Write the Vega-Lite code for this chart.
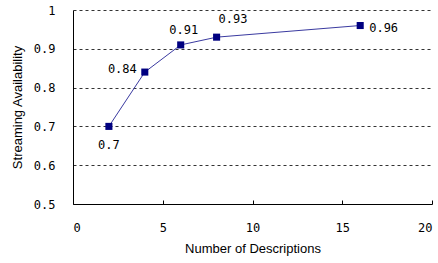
{
  "$schema": "https://vega.github.io/schema/vega-lite/v6.json",
  "width": 359,
  "height": 194,
  "autosize": {"type": "none"},
  "padding": {"left": 73, "top": 10, "right": 6, "bottom": 59},
  "background": "white",
  "config": {
    "view": {"stroke": null},
    "font": "Liberation Sans",
    "axis": {"labelFont": "DejaVu Sans Mono", "titleFont": "Liberation Sans", "labelColor": "#000", "titleColor": "#000", "titleFontWeight": "normal", "labelFontSize": 12, "titleFontSize": 13}
  },
  "data": {
    "values": [
      {"n": 2, "a": 0.7, "label": "0.7", "pos": "below"},
      {"n": 4, "a": 0.84, "label": "0.84", "pos": "left"},
      {"n": 6, "a": 0.91, "label": "0.91", "pos": "above"},
      {"n": 8, "a": 0.93, "label": "0.93", "pos": "aboveright"},
      {"n": 16, "a": 0.96, "label": "0.96", "pos": "right"}
    ]
  },
  "encoding": {
    "x": {
      "field": "n", "type": "quantitative",
      "scale": {"domain": [0, 20], "nice": false, "zero": false},
      "axis": {"title": "Number of Descriptions", "values": [0, 5, 10, 15, 20], "grid": false, "domainColor": "#000", "domainWidth": 1, "tickColor": "#000", "tickSize": -4, "labelPadding": 22, "titlePadding": 9, "format": "d"}
    },
    "y": {
      "field": "a", "type": "quantitative",
      "scale": {"domain": [0.5, 1], "nice": false, "zero": false},
      "axis": {"title": "Streaming Availability", "values": [0.5, 0.6, 0.7, 0.8, 0.9, 1], "grid": true, "gridDash": [3, 3], "gridColor": "#333", "gridWidth": 1, "domainColor": "#000", "domainWidth": 1, "ticks": false, "labelPadding": 18, "titlePadding": 9, "format": ".1~f"}
    }
  },
  "layer": [
    {"mark": {"type": "line", "color": "#3a3aa0", "strokeWidth": 1}},
    {"mark": {"type": "square", "color": "#000080", "opacity": 1, "size": 50, "filled": true}},
    {"transform": [{"filter": "datum.pos == 'below'"}], "mark": {"type": "text", "dy": 19, "align": "center", "fontSize": 12, "font": "DejaVu Sans Mono"}, "encoding": {"text": {"field": "label"}}},
    {"transform": [{"filter": "datum.pos == 'left'"}], "mark": {"type": "text", "dx": -8, "dy": -3, "align": "right", "fontSize": 12, "font": "DejaVu Sans Mono"}, "encoding": {"text": {"field": "label"}}},
    {"transform": [{"filter": "datum.pos == 'above'"}], "mark": {"type": "text", "dx": 3, "dy": -15, "align": "center", "fontSize": 12, "font": "DejaVu Sans Mono"}, "encoding": {"text": {"field": "label"}}},
    {"transform": [{"filter": "datum.pos == 'aboveright'"}], "mark": {"type": "text", "dx": 2, "dy": -18, "align": "left", "fontSize": 12, "font": "DejaVu Sans Mono"}, "encoding": {"text": {"field": "label"}}},
    {"transform": [{"filter": "datum.pos == 'right'"}], "mark": {"type": "text", "dx": 9, "dy": 2, "align": "left", "fontSize": 12, "font": "DejaVu Sans Mono"}, "encoding": {"text": {"field": "label"}}}
  ]
}
